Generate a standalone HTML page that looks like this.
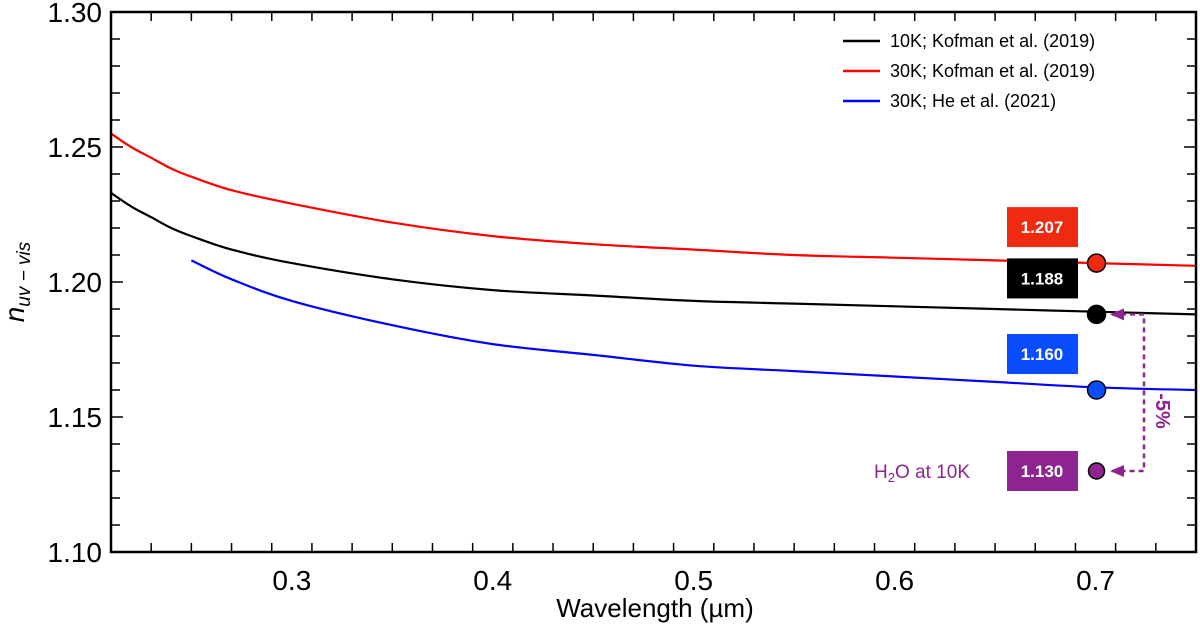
<!DOCTYPE html>
<html><head><meta charset="utf-8"><style>
body{margin:0;background:#fff;font-family:"Liberation Sans",sans-serif}
svg{display:block}
</style></head><body>
<svg id="chart" width="1200" height="628" xmlns="http://www.w3.org/2000/svg" font-family="Liberation Sans, DejaVu Sans, sans-serif"></svg>
<script>
const xCats=[0.21,0.22,0.23,0.24,0.25,0.27,0.3,0.35,0.4,0.45,0.5,0.55,0.6,0.65,0.7,0.75];
const black10K=[1.233,1.228,1.224,1.220,1.217,1.212,1.207,1.201,1.197,1.195,1.193,1.192,1.191,1.190,1.189,1.188];
const red30K=[1.255,1.250,1.246,1.242,1.239,1.234,1.229,1.222,1.217,1.214,1.212,1.210,1.209,1.208,1.207,1.206];
const blueX=[0.25,0.27,0.3,0.35,0.4,0.45,0.5,0.55,0.6,0.65,0.7,0.75];
const blue30K=[1.208,1.201,1.193,1.184,1.177,1.173,1.169,1.167,1.165,1.163,1.161,1.160];
const markerVals=[1.207,1.188,1.160,1.130];
const markerLabels=["1.207","1.188","1.160","1.130"];
const markerColors=["#ee2a10","#000000","#0a4dff","#8e2490"];
const xTicks=[0.3,0.4,0.5,0.6,0.7];
const yTicks=[1.10,1.15,1.20,1.25,1.30];
const L=111,R=1196,T=12,B=552,x0=0.21,x1=0.75,y0=1.10,y1=1.30;
const sx=v=>L+(v-x0)/(x1-x0)*(R-L);
const sy=v=>B-(v-y0)/(y1-y0)*(B-T);
const svg=document.getElementById('chart');
const NS="http://www.w3.org/2000/svg";
function mk(t,a,p){const e=document.createElementNS(NS,t);for(const k in a)e.setAttribute(k,a[k]);(p||svg).appendChild(e);return e;}
for(let i=0;i<=27;i++){const v=0.21+i*0.02;const x=sx(v);const major=xTicks.some(t=>Math.abs(t-v)<1e-6);const len=major?12:9;
 const t=mk('line',{x1:x,x2:x,y1:B,y2:B-len,stroke:'#000','stroke-width':1.5});
 
 
 const t2=mk('line',{x1:x,x2:x,y1:T,y2:T+len,stroke:'#000','stroke-width':1.5});
 
 }
for(let i=0;i<=20;i++){const v=1.10+i*0.01;const y=sy(v);const major=i%5==0;const len=major?12:9;
 const t=mk('line',{x1:L,x2:L+len,y1:y,y2:y,stroke:'#000','stroke-width':1.5});
 
 
 const t2=mk('line',{x1:R,x2:R-len,y1:y,y2:y,stroke:'#000','stroke-width':1.5});
 
 }
xTicks.forEach(v=>{const t=mk('text',{x:sx(v),y:590,'font-size':28,'text-anchor':'middle'});t.textContent=v.toFixed(1);
 
 });
yTicks.forEach(v=>{const t=mk('text',{x:102,y:sy(v)+10,'font-size':28,'text-anchor':'end'});t.textContent=v.toFixed(2);
 
 });
function line(xs,ys,c,name){
 const P=xs.map((x,i)=>[sx(x),sy(ys[i])]);
 let d='M'+P[0][0].toFixed(1)+','+P[0][1].toFixed(1);
 for(let i=0;i<P.length-1;i++){const p0=P[i-1]||P[i],p1=P[i],p2=P[i+1],p3=P[i+2]||P[i+1];
  const c1=[p1[0]+(p2[0]-p0[0])/6,p1[1]+(p2[1]-p0[1])/6],c2=[p2[0]-(p3[0]-p1[0])/6,p2[1]-(p3[1]-p1[1])/6];
  d+='C'+c1.map(n=>n.toFixed(1)).join(',')+' '+c2.map(n=>n.toFixed(1)).join(',')+' '+p2[0].toFixed(1)+','+p2[1].toFixed(1);}
 const p=mk('path',{d:d,fill:'none',stroke:c,'stroke-width':2.2,'stroke-linejoin':'round'});
 
 }
line(xCats,red30K,'#ff0000','series-30k-kofman');
line(xCats,black10K,'#000000','series-10k-kofman');
line(blueX,blue30K,'#0000ff','series-30k-he');
const ax=1144,ay1=sy(markerVals[1]),ay2=sy(markerVals[3]);
const ar=mk('path',{d:`M1112,${ay1}H${ax}V${ay2}H1112`,fill:'none',stroke:'#8e2490','stroke-width':2.5,'stroke-dasharray':'5,4'});


[ay1,ay2].forEach(y=>{const h=mk('path',{d:`M1110,${y}l14,-6v12z`,fill:'#8e2490'});
 
 });
const pc=mk('text',{x:0,y:0,'font-size':20,'font-weight':'bold',fill:'#8e2490',transform:'translate(1156,411) rotate(90)','text-anchor':'middle'});pc.textContent='-5%';


markerVals.forEach((v,i)=>{const y=sy(v);
 const r=mk('rect',{x:1007,y:y-20-(i==3?0:36),width:71,height:40,fill:markerColors[i]});
 
 
 const t=mk('text',{x:1042,y:y+6-(i==3?0:36),'font-size':17,'font-weight':'bold',fill:'#fff','text-anchor':'middle'});t.textContent=markerLabels[i];
 
 
 const c=mk('circle',{cx:sx(0.7)+1,cy:y,r:i==3?8:9,fill:markerColors[i],stroke:'#000','stroke-width':1.5});
 
 });
const h2o=mk('text',{x:970,y:sy(1.130)+7,'font-size':19,fill:'#8e2490','text-anchor':'end'});
h2o.innerHTML='H<tspan font-size="13" dy="4">2</tspan><tspan dy="-4">O at 10K</tspan>';


[['#000','10K; Kofman et al. (2019)'],['#ff0000','30K; Kofman et al. (2019)'],['#0000ff','30K; He et al. (2021)']].forEach((e,i)=>{const y=41+i*30;
 const l=mk('line',{x1:843,x2:880,y1:y,y2:y,stroke:e[0],'stroke-width':2.5});
 
 
 const t=mk('text',{x:890,y:y+6,'font-size':18});t.textContent=e[1];
 
 });
const fr=mk('rect',{x:L,y:T,width:R-L,height:B-T,fill:'none',stroke:'#000','stroke-width':2.5});


const xl=mk('text',{x:655,y:617,'font-size':26,'text-anchor':'middle'});xl.textContent='Wavelength (µm)';


const yl=mk('text',{x:0,y:0,'font-size':28,'font-style':'italic',transform:'translate(24,282) rotate(-90)','text-anchor':'middle'});
yl.innerHTML='n<tspan font-size="19" dy="6">uv − vis</tspan>';


</script>
</body></html>
